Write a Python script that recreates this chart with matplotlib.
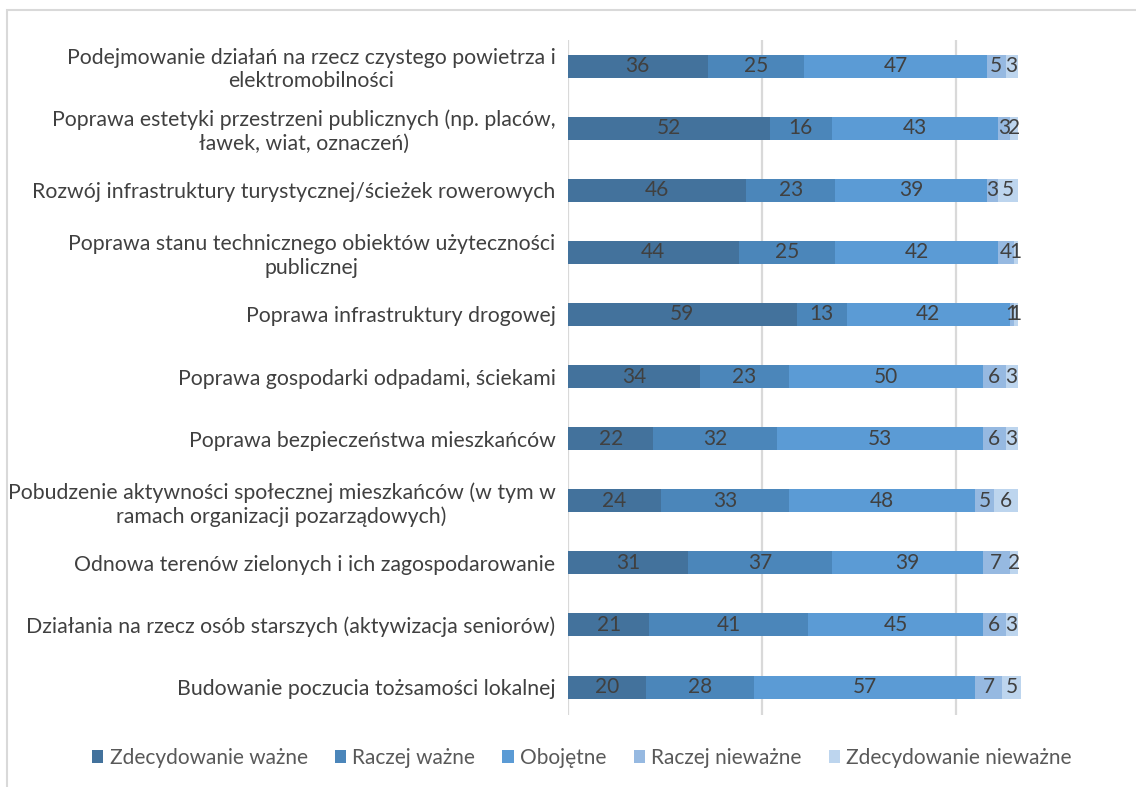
import matplotlib.pyplot as plt
from matplotlib.patches import Rectangle
import numpy as np

# categories, top to bottom as in the chart
categories = [
    "Podejmowanie działań na rzecz czystego powietrza i\nelektromobilności",
    "Poprawa estetyki przestrzeni publicznych (np. placów,\nławek, wiat, oznaczeń)",
    "Rozwój infrastruktury turystycznej/ścieżek rowerowych",
    "Poprawa stanu technicznego obiektów użyteczności\npublicznej",
    "Poprawa infrastruktury drogowej",
    "Poprawa gospodarki odpadami, ściekami",
    "Poprawa bezpieczeństwa mieszkańców",
    "Pobudzenie aktywności społecznej mieszkańców (w tym w\nramach organizacji pozarządowych)",
    "Odnowa terenów zielonych i ich zagospodarowanie",
    "Działania na rzecz osób starszych (aktywizacja seniorów)",
    "Budowanie poczucia tożsamości lokalnej",
]

series_names = ["Zdecydowanie ważne", "Raczej ważne", "Obojętne",
                "Raczej nieważne", "Zdecydowanie nieważne"]

zdecydowanie_wazne = [36, 52, 46, 44, 59, 34, 22, 24, 31, 21, 20]
raczej_wazne = [25, 16, 23, 25, 13, 23, 32, 33, 37, 41, 28]
obojetne = [47, 43, 39, 42, 42, 50, 53, 48, 39, 45, 57]
raczej_niewazne = [5, 3, 3, 4, 1, 6, 6, 5, 7, 6, 7]
zdecydowanie_niewazne = [3, 2, 5, 1, 1, 3, 3, 6, 2, 3, 5]

colors = ["#43729C", "#4B86BA", "#5B9BD5", "#96B9E1", "#BDD5EE"]

plt.rcParams['font.family'] = ['Lato', 'DejaVu Sans']

fig = plt.figure(figsize=(11.36, 7.87), dpi=100)
ax = fig.add_axes([568 / 1136, 1 - 715 / 787, 542.5 / 1136, 675 / 787])

# outer chart border
fig.patches.append(Rectangle((7 / 1136, -0.1), 1.2, 1 - 10 / 787 + 0.1,
                             transform=fig.transFigure, fill=False,
                             edgecolor="#D9D9D9", linewidth=1.5))

y = np.arange(len(categories))[::-1]
left = np.zeros(len(categories))
all_series = [zdecydowanie_wazne, raczej_wazne, obojetne,
              raczej_niewazne, zdecydowanie_niewazne]
for name, vals, col in zip(series_names, all_series, colors):
    vals = np.array(vals)
    bars = ax.barh(y, vals, left=left, height=0.37, color=col, label=name,
                   zorder=3)
    ax.bar_label(bars, labels=[str(v) for v in vals], label_type='center',
                 color="#404040", fontsize=15, zorder=4)
    left += vals

ax.set_xlim(0, 140)
ax.set_ylim(-0.45, 10.42)
ax.set_xticks([0, 50, 100])
ax.xaxis.grid(True, color="#D9D9D9", linewidth=1.6, zorder=0)
ax.tick_params(axis='x', length=0, labelbottom=False)
ax.set_yticks(y)
ax.set_yticklabels(categories, fontsize=15.3, color="#404040",
                   multialignment='center')
ax.tick_params(axis='y', length=0, pad=9)
for s in ax.spines.values():
    s.set_visible(False)

ax.legend(loc='center', bbox_to_anchor=(582 / 1136, 1 - 758 / 787),
          bbox_transform=fig.transFigure, ncol=5, frameon=False,
          fontsize=15, labelcolor="#595959", handlelength=0.55,
          handleheight=0.55, handletextpad=0.3, columnspacing=1.3)

plt.savefig("out.png", dpi=100)
